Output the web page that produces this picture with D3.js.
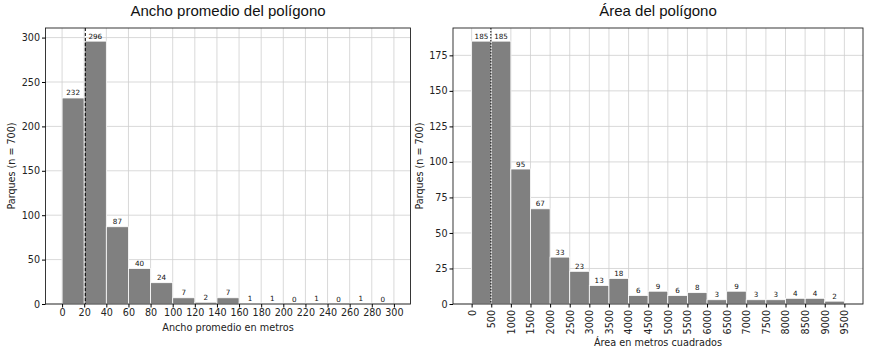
<!DOCTYPE html>
<html>
<head>
<meta charset="utf-8">
<script src="https://cdn.jsdelivr.net/npm/d3@7"></script>
<style>
  body { margin: 0; background: #fff; }
  svg { font-family: "DejaVu Sans", sans-serif; }
</style>
</head>
<body>
<svg width="873" height="350"></svg>
<script>
// Ancho promedio del polígono
const anchoEdges = [0, 20, 40, 60, 80, 100, 120, 140, 160, 180, 200, 220, 240, 260, 280, 300];
const anchoCounts = [232, 296, 87, 40, 24, 7, 2, 7, 1, 1, 0, 1, 0, 1, 0];
const anchoTicksX = [0, 20, 40, 60, 80, 100, 120, 140, 160, 180, 200, 220, 240, 260, 280, 300];
const anchoTicksY = [0, 50, 100, 150, 200, 250, 300];
const anchoMedian = 21;

// Área del polígono
const areaEdges = [0, 500, 1000, 1500, 2000, 2500, 3000, 3500, 4000, 4500, 5000, 5500, 6000, 6500, 7000, 7500, 8000, 8500, 9000, 9500];
const areaCounts = [185, 185, 95, 67, 33, 23, 13, 18, 6, 9, 6, 8, 3, 9, 3, 3, 4, 4, 2];
const areaTicksX = [0, 500, 1000, 1500, 2000, 2500, 3000, 3500, 4000, 4500, 5000, 5500, 6000, 6500, 7000, 7500, 8000, 8500, 9000, 9500];
const areaTicksY = [0, 25, 50, 75, 100, 125, 150, 175];
const areaMedian = 490;

const svg = d3.select("svg");

function histPanel(opt) {
  const x = d3.scaleLinear().domain(opt.xDomain).range(opt.xRange);
  const y = d3.scaleLinear().domain(opt.yDomain).range([304, 28]);
  const g = svg.append("g");
  const [x0, x1] = opt.xRange;

  // grid
  g.selectAll("line.gx").data(opt.ticksX).join("line")
    .attr("x1", d => x(d)).attr("x2", d => x(d))
    .attr("y1", 28).attr("y2", 304)
    .attr("stroke", "#cfcfcf").attr("stroke-width", 0.8);
  g.selectAll("line.gy").data(opt.ticksY).join("line")
    .attr("x1", x0).attr("x2", x1)
    .attr("y1", d => y(d)).attr("y2", d => y(d))
    .attr("stroke", "#cfcfcf").attr("stroke-width", 0.8);

  const bins = opt.counts.map((c, i) => ({ a: opt.edges[i], b: opt.edges[i + 1], c }));

  g.selectAll("rect.bar").data(bins).join("rect")
    .attr("x", d => x(d.a))
    .attr("width", d => x(d.b) - x(d.a))
    .attr("y", d => y(d.c))
    .attr("height", d => y(0) - y(d.c))
    .attr("fill", "#808080")
    .attr("stroke", "#fff")
    .attr("stroke-width", 0.8);

  // median line
  g.append("line")
    .attr("x1", x(opt.median)).attr("x2", x(opt.median))
    .attr("y1", 28).attr("y2", 304)
    .attr("stroke", "#000").attr("stroke-width", 1)
    .attr("stroke-dasharray", opt.dash);

  g.selectAll("text.lbl").data(bins).join("text")
    .attr("x", d => (x(d.a) + x(d.b)) / 2)
    .attr("y", d => y(d.c) - 2.5)
    .attr("text-anchor", "middle")
    .attr("font-size", "7.2px")
    .attr("fill", "#111")
    .text(d => d.c);

  // frame
  g.append("rect")
    .attr("x", x0).attr("y", 28)
    .attr("width", x1 - x0).attr("height", 276)
    .attr("fill", "none").attr("stroke", "#222").attr("stroke-width", 0.9);

  const ax = g.append("g").attr("transform", "translate(0,304)")
    .call(d3.axisBottom(x).tickValues(opt.ticksX).tickSize(3.5).tickPadding(2).tickFormat(d3.format("d")));
  ax.select(".domain").remove();
  ax.selectAll("text").attr("font-size", "9.6px").attr("fill", "#222").attr("font-family", "DejaVu Sans");
  if (opt.rotate) {
    ax.selectAll("text")
      .attr("transform", "rotate(-90)")
      .attr("text-anchor", "end")
      .attr("x", -6).attr("y", 0).attr("dy", "0.35em");
  }

  const ay = g.append("g").attr("transform", `translate(${x0},0)`)
    .call(d3.axisLeft(y).tickValues(opt.ticksY).tickSize(3.5).tickPadding(2));
  ay.select(".domain").remove();
  ay.selectAll("text").attr("font-size", "9.6px").attr("fill", "#222").attr("font-family", "DejaVu Sans");

  svg.append("text")
    .attr("x", (x0 + x1) / 2).attr("y", 16)
    .attr("text-anchor", "middle")
    .attr("font-family", "Liberation Sans, Arial, sans-serif")
    .attr("font-size", "15px")
    .attr("fill", "#111")
    .text(opt.title);

  svg.append("text")
    .attr("x", (x0 + x1) / 2).attr("y", opt.xLabelY)
    .attr("text-anchor", "middle")
    .attr("font-size", "9.7px")
    .attr("fill", "#222")
    .text(opt.xLabel);

  svg.append("text")
    .attr("transform", `translate(${opt.yLabelX},166) rotate(-90)`)
    .attr("text-anchor", "middle")
    .attr("font-size", "9.6px")
    .attr("fill", "#222")
    .text("Parques (n = 700)");
}

histPanel({
  title: "Ancho promedio del polígono",
  xLabel: "Ancho promedio en metros",
  edges: anchoEdges, counts: anchoCounts,
  ticksX: anchoTicksX, ticksY: anchoTicksY,
  xDomain: [-15, 315], xRange: [45.5, 410.5],
  yDomain: [0, 310.8],
  median: anchoMedian, dash: "3,2",
  xLabelY: 331, yLabelX: 15, rotate: false
});

histPanel({
  title: "Área del polígono",
  xLabel: "Área en metros cuadrados",
  edges: areaEdges, counts: areaCounts,
  ticksX: areaTicksX, ticksY: areaTicksY,
  xDomain: [-475, 9975], xRange: [453, 863],
  yDomain: [0, 194.25],
  median: areaMedian, dash: "1.5,1.5",
  xLabelY: 346, yLabelX: 423, rotate: true
});
</script>
</body>
</html>
